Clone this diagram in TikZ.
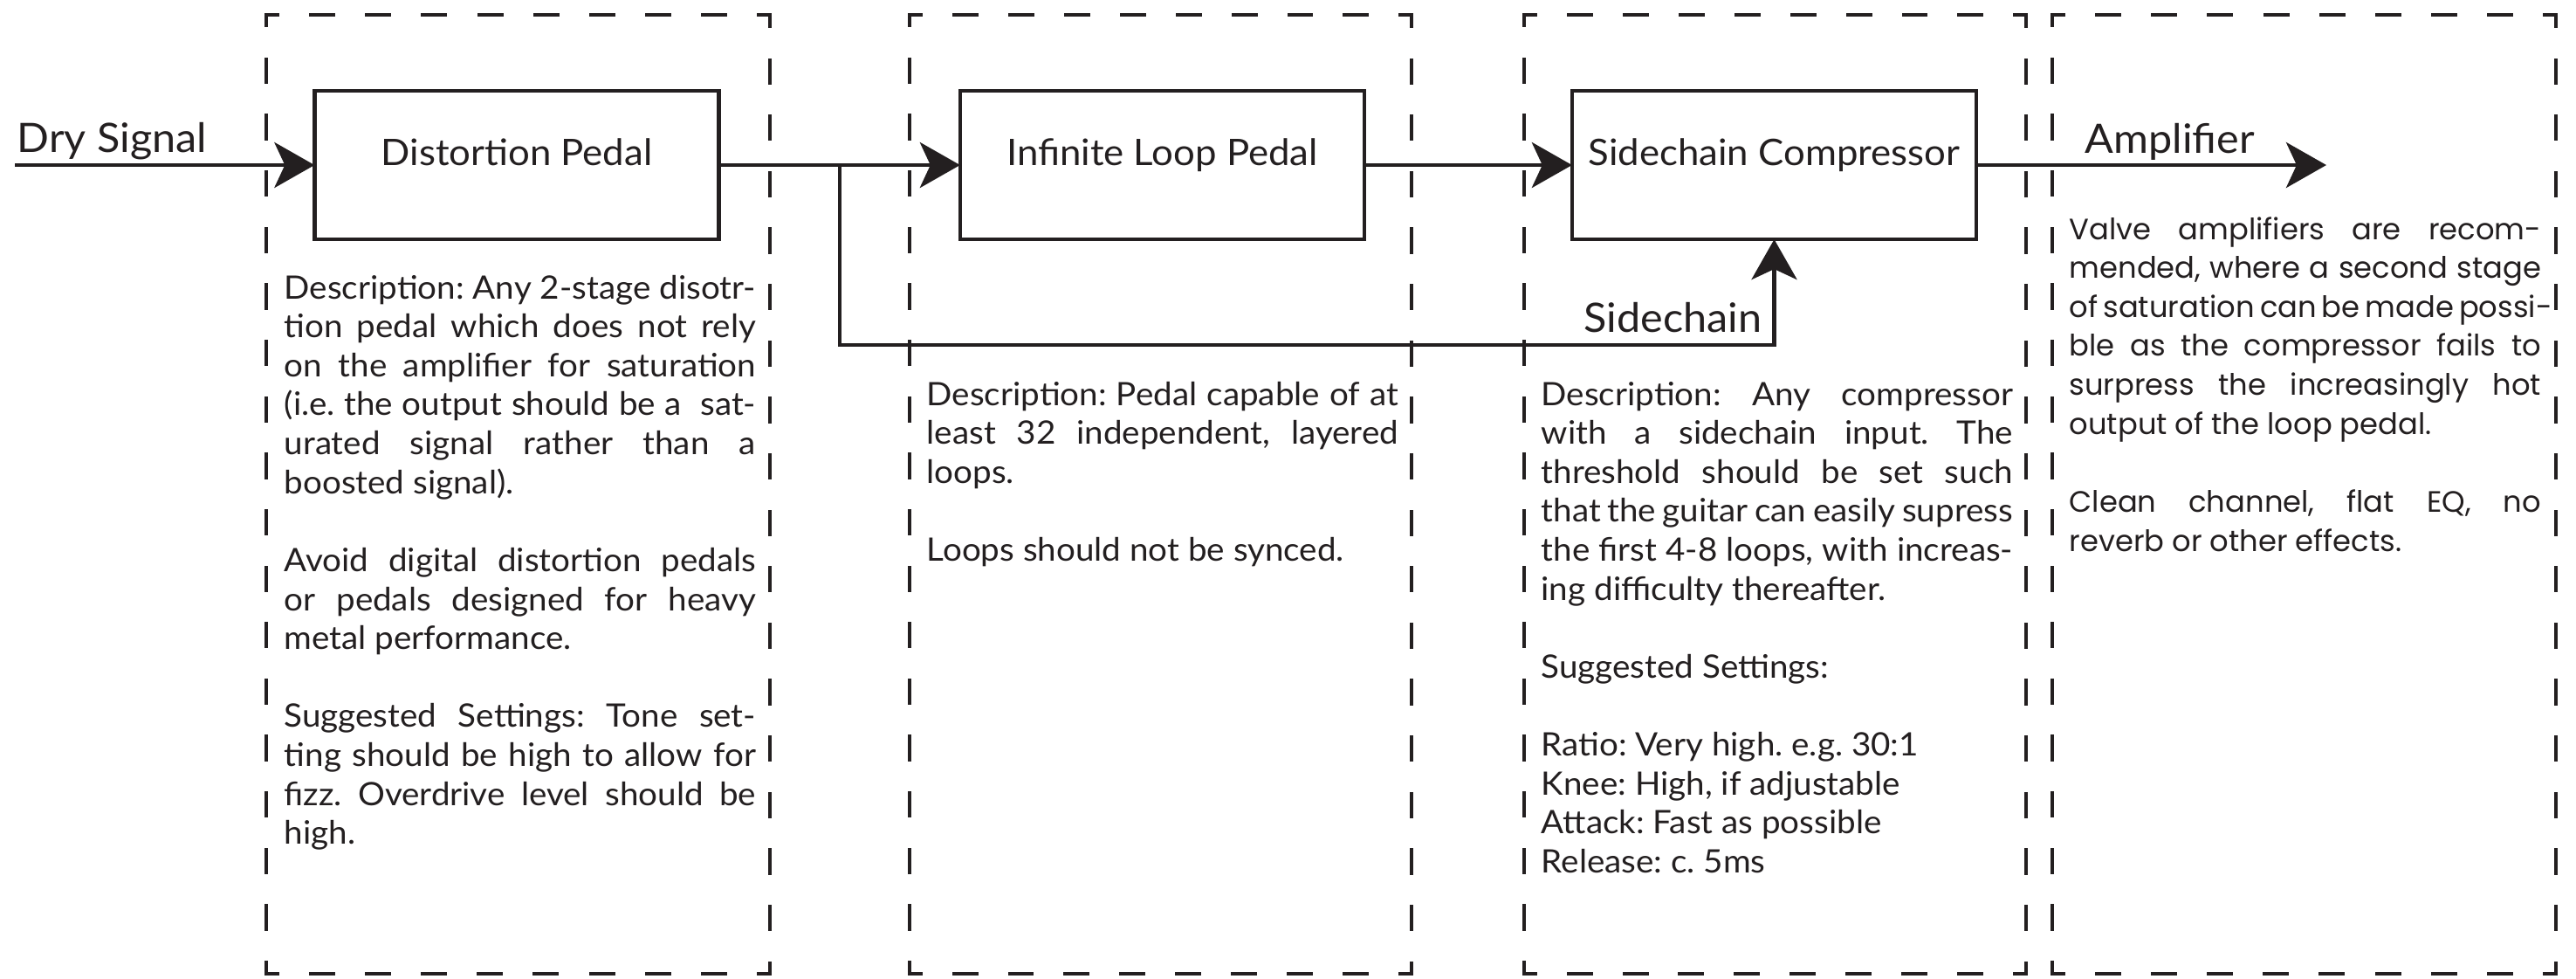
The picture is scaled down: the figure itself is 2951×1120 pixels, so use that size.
\documentclass[tikz,border=0pt]{standalone}
\usepackage{fontspec}
\setmainfont{Lato}[FakeStretch=1.045]
\newfontfamily\ampfont{Poppins}
\usetikzlibrary{arrows.meta}
\definecolor{ink}{RGB}{35,31,32}

\newcommand\jline[1]{\makebox[\linewidth][s]{#1}\par}
\newcommand\lline[1]{\mbox{#1}\par}
\newcommand\bline{\mbox{}\par}
\newcommand\bodytxt{\fontsize{10.5pt}{12.69pt}\selectfont\frenchspacing\lineskiplimit=-20pt\relax}
\newcommand\amptxt{\ampfont\fontsize{9.6pt}{12.69pt}\selectfont\frenchspacing\lineskiplimit=-20pt\relax}

\newcommand\dside[4]{%
 \pgfmathsetmacro\Ls{veclen(#3-#1,#4-#2)}%
 \pgfmathsetmacro\Ns{max(1,round(\Ls/64))}%
 \pgfmathsetmacro\Ps{\Ls/\Ns}%
 \pgfmathsetmacro\Ds{(\Ps*30/64-4.6)*0.284528}%
 \pgfmathsetmacro\Gs{(\Ps*34/64+4.6)*0.284528}%
 \pgfmathsetmacro\Hs{(\Ps*15/64-2.3)*0.284528}%
 \begin{scope}\pgfsetdash{{\Ds pt}{\Gs pt}}{\Hs pt}%
 \draw[dline] (#1,#2) -- (#3,#4);\end{scope}}
\newcommand\dbox[4]{\dside{#1}{#2}{#3}{#2}\dside{#3}{#2}{#3}{#4}\dside{#3}{#4}{#1}{#4}\dside{#1}{#4}{#1}{#2}}

\begin{document}
\begin{tikzpicture}[x=0.01cm,y=-0.01cm,
  dline/.style={draw=ink,line width=1.3pt,line cap=rect},
  pedal/.style={draw=ink,line width=1.3pt,minimum width=4.63cm,minimum height=1.70cm,inner sep=0pt,outer sep=0pt},
  wire/.style={draw=ink,line width=1.35pt},
  arr/.style={wire,-{Stealth[length=0.46cm,width=0.52cm,inset=0.12cm]}},
  lab/.style={inner sep=0pt,text=ink,font=\fontsize{11.9pt}{14pt}\selectfont},
  biglab/.style={inner sep=0pt,text=ink,font=\fontsize{13.2pt}{16pt}\selectfont},
  desc/.style={inner sep=0pt,text=ink,anchor=base west}]
\useasboundingbox (0,0) rectangle (2951,1120);
\fill[white] (0,0) rectangle (2951,1120);

% dashed stage boxes
\dbox{305}{17}{882}{1115}
\dbox{1042}{17}{1617}{1115}
\dbox{1746}{17}{2321}{1115}
\dbox{2351}{17}{2928}{1115}

% pedals
\node[pedal] (dist) at (592,189) {};
\node[pedal] (loop) at (1331.5,189) {};
\node[pedal] (comp) at (2032.5,189) {};
\node[lab,anchor=base] (distlab) at (dist.center) {Distortion Pedal};
\node[lab,anchor=base] (looplab) at (loop.center) {Infinite Loop Pedal};
\node[lab,anchor=base] (complab) at (comp.center) {Sidechain Compressor};

% signal labels
\node[biglab,anchor=base west] (dry) at (19,174) {Dry Signal};
\node[biglab,anchor=base west] (amp) at (2388,175) {Amplifier};
\node[biglab,anchor=base east] (sclab) at (2019,380) {Sidechain};

% connectors
\coordinate (in) at (17,189);
\coordinate (out) at (2665,189);
\coordinate (br) at (962,189);
\coordinate (sc) at (962,395);
\draw[arr] (in) -- (dist.west);
\draw[arr] (dist.east) -- (loop.west);
\draw[arr] (loop.east) -- (comp.west);
\draw[arr] (comp.east) -- (out);
\draw[arr] (br) -- (sc) -| (comp.south);

% descriptions
\node[desc] (d1) at (325,342) {\parbox[t]{5.4cm}{\bodytxt
\jline{Description: Any 2-stage disotr-}
\jline{tion pedal which does not rely}
\jline{on the amplifier for saturation}
\jline{(i.e. the output should be a \ sat-}
\jline{urated signal rather than a}
\lline{boosted signal).}
\bline
\jline{Avoid digital distortion pedals}
\jline{or pedals designed for heavy}
\lline{metal performance.}
\bline
\jline{Suggested Settings: Tone set-}
\jline{ting should be high to allow for}
\jline{fizz. Overdrive level should be}
\lline{high.}}};

\node[desc] (d2) at (1061,464) {\parbox[t]{5.4cm}{\bodytxt
\jline{Description: Pedal capable of at}
\jline{least 32 independent, layered}
\lline{loops.}
\bline
\lline{Loops should not be synced.}}};

\node[desc] (d3) at (1765,464) {\parbox[t]{5.4cm}{\bodytxt
\jline{Description: Any compressor}
\jline{with a sidechain input. The}
\jline{threshold should be set such}
\jline{that the guitar can easily supress}
\jline{the first 4-8 loops, with increas-}
\lline{ing difficulty thereafter.}
\bline
\lline{Suggested Settings:}
\bline
\lline{Ratio: Very high. e.g. 30:1}
\lline{Knee: High, if adjustable}
\lline{Attack: Fast as possible}
\lline{Release: c. 5ms}}};

\node[desc] (d4) at (2370,274) {\parbox[t]{5.4cm}{\amptxt
\jline{Valve amplifiers are recom-}
\jline{mended, where a second stage}
\jline{of saturation can be made possi-}
\jline{ble as the compressor fails to}
\jline{surpress the increasingly hot}
\lline{output of the loop pedal.}
\bline
\jline{Clean channel, flat EQ, no}
\lline{reverb or other effects.}}};
\end{tikzpicture}
\end{document}
